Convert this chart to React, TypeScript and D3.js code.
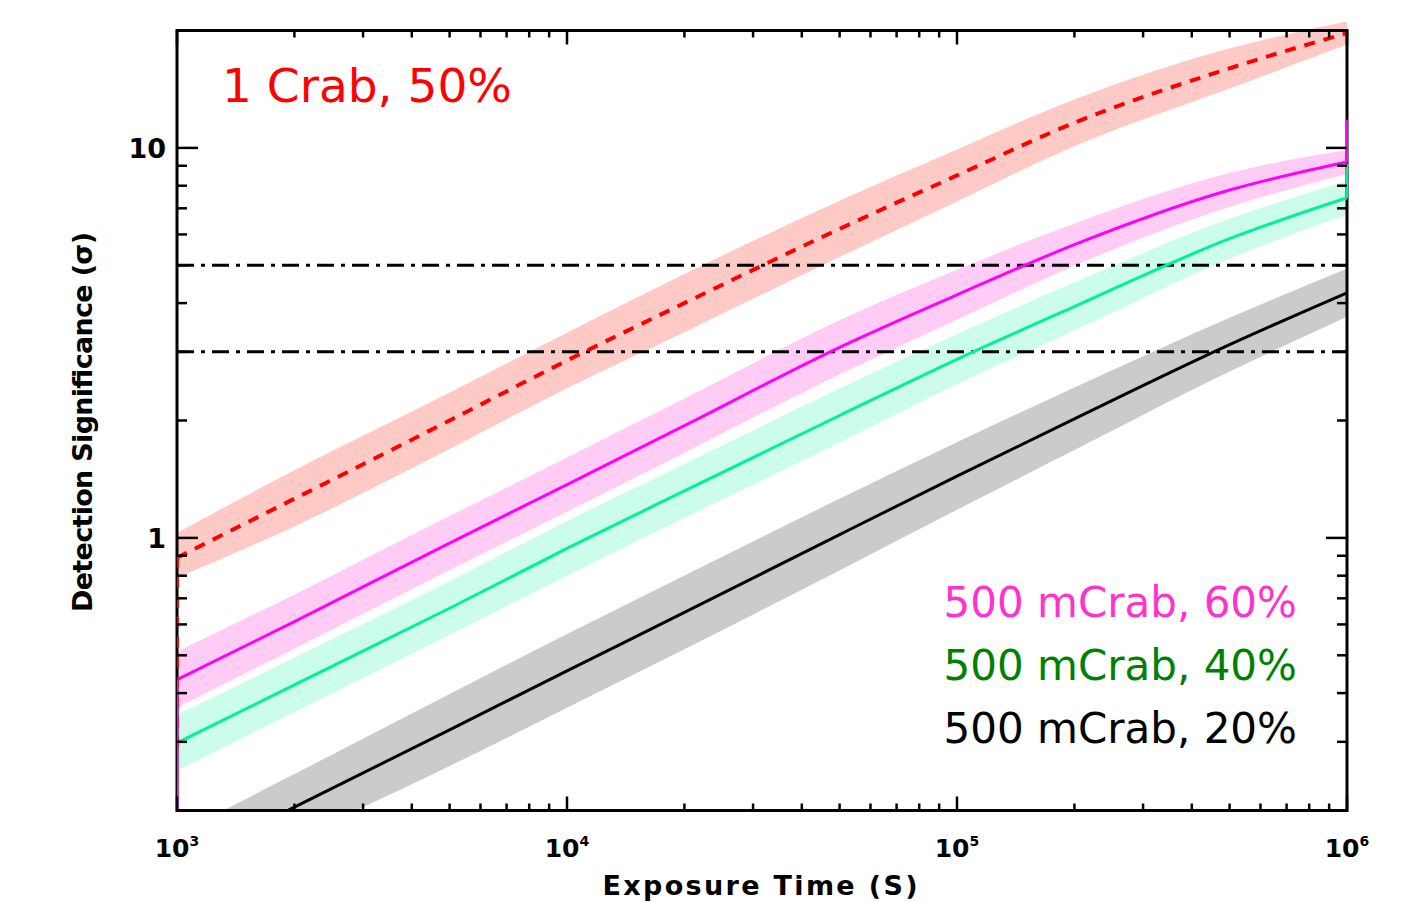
import React from "react";
import * as d3 from "d3";

const times = [1e3, 2e3, 5e3, 1e4, 2e4, 5e4, 1e5, 2e5, 5e5, 1e6];

// 1 Crab, 50%
const crab1 = [0.89, 1.26, 2.0, 2.85, 4.0, 6.2, 8.5, 11.6, 16.0, 19.7];
const crab1Hi = [1.03, 1.49, 2.36, 3.36, 4.75, 7.32, 9.91, 13.3, 18.0, 21.1];
const crab1Lo = [0.79, 1.07, 1.69, 2.42, 3.37, 5.25, 7.29, 10.1, 14.2, 18.4];

// 500 mCrab, 60%
const m60 = [0.433, 0.61, 0.97, 1.37, 1.94, 3.08, 4.2, 5.65, 7.8, 9.2];
const m60Hi = [0.511, 0.716, 1.138, 1.607, 2.276, 3.613, 4.868, 6.4, 8.62, 9.87];
const m60Lo = [0.367, 0.52, 0.827, 1.168, 1.654, 2.626, 3.624, 4.99, 7.06, 8.57];

// 500 mCrab, 40%
const m40 = [0.298, 0.42, 0.66, 0.94, 1.32, 2.06, 2.87, 3.92, 5.85, 7.45];
const m40Hi = [0.352, 0.493, 0.774, 1.103, 1.548, 2.416, 3.326, 4.516, 6.58, 8.23];
const m40Lo = [0.253, 0.358, 0.563, 0.801, 1.125, 1.756, 2.476, 3.403, 5.2, 6.74];

// 500 mCrab, 20%
const m20 = [0.144, 0.204, 0.322, 0.456, 0.644, 1.02, 1.44, 2.02, 3.13, 4.25];
const m20Hi = [0.174, 0.248, 0.398, 0.567, 0.801, 1.26, 1.76, 2.43, 3.67, 4.9];
const m20Lo = [0.119, 0.168, 0.26, 0.367, 0.518, 0.825, 1.18, 1.68, 2.67, 3.69];

// end spikes left by the plotting at the first / last sample
const crab1Start = 0.29;
const m60Start = 0.15;
const m60End = 11.8;
const m40End = 9.1;

const thresholds = [3, 5];
const yTickLabels = [1, 10];
const xExponents = ["3", "4", "5", "6"];

const W = 1427;
const H = 902;
const left = 177;
const right = 1347;
const top = 30.5;
const bottom = 810.5;

const x = d3.scaleLog().domain([1e3, 1e6]).range([left, right]);
const y = d3.scaleLog().domain([0.2, 20]).range([bottom, top]);

const series = [
  { vals: crab1, hi: crab1Hi, lo: crab1Lo, color: "#ff0000", band: "#fdcac6", dash: "11 9", width: 4 },
  { vals: m60, hi: m60Hi, lo: m60Lo, color: "#ff00ff", band: "#ffccf5", dash: null, width: 3 },
  { vals: m40, hi: m40Hi, lo: m40Lo, color: "#00f0a0", band: "#ccfcea", dash: null, width: 3 },
  { vals: m20, hi: m20Hi, lo: m20Lo, color: "#000000", band: "#cbcbcb", dash: null, width: 3 },
];

const tickFont = "'DejaVu Sans', sans-serif";

export default function App() {
  const line = (vals: number[]) =>
    d3
      .line<number>()
      .x((_, i) => x(times[i]))
      .y((d) => y(d))
      .curve(d3.curveMonotoneX)(vals) as string;

  const band = (hi: number[], lo: number[]) =>
    d3
      .area<number>()
      .x((_, i) => x(times[i]))
      .y0((_, i) => y(lo[i]))
      .y1((d) => y(d))
      .curve(d3.curveMonotoneX)(hi) as string;

  const xTicks = x.ticks();
  const yTicks = y.ticks();
  const isMajor = (v: number) => Math.abs(Math.log10(v) - Math.round(Math.log10(v))) < 1e-6;

  const last = times.length - 1;

  return (
    <svg
      width={W}
      height={H}
      style={{ position: "absolute", left: 0, top: 0, display: "block", background: "#fff" }}
    >
      <defs>
        <clipPath id="plot">
          <rect x={left} y={0} width={right - left + 1} height={bottom} />
        </clipPath>
      </defs>

      {/* uncertainty bands */}
      <g clipPath="url(#plot)">
        {series.map((s, i) => (
          <path key={i} d={band(s.hi, s.lo)} fill={s.band} stroke="none" />
        ))}
      </g>

      {/* 3 and 5 sigma levels */}
      {thresholds.map((t) => (
        <line
          key={t}
          x1={left}
          x2={right}
          y1={y(t)}
          y2={y(t)}
          stroke="#000"
          strokeWidth={3}
          strokeDasharray="17 7 4 7"
        />
      ))}

      {/* frame */}
      <rect x={left} y={top} width={right - left} height={bottom - top} fill="none" stroke="#000" strokeWidth={3} />

      {/* curves */}
      <g clipPath="url(#plot)">
        {series.map((s, i) => (
          <path
            key={i}
            d={line(s.vals)}
            fill="none"
            stroke={s.color}
            strokeWidth={s.width}
            strokeDasharray={s.dash ?? undefined}
          />
        ))}
        <line x1={x(times[0])} x2={x(times[0])} y1={y(crab1Start)} y2={y(crab1[0])} stroke="#ff0000" strokeWidth={4} strokeDasharray="11 9" />
        <line x1={x(times[0])} x2={x(times[0])} y1={y(m60Start)} y2={y(m60[0])} stroke="#ff00ff" strokeWidth={3} />
        <line x1={x(times[last])} x2={x(times[last])} y1={y(m60[last])} y2={y(m60End)} stroke="#ff00ff" strokeWidth={3} />
        <line x1={x(times[last])} x2={x(times[last])} y1={y(m40[last])} y2={y(m40End)} stroke="#00f0a0" strokeWidth={3} />
      </g>

      {/* x ticks, top and bottom */}
      {xTicks.map((t, i) => {
        const len = isMajor(t) ? 14 : 7;
        const px = x(t);
        return (
          <g key={i} stroke="#000" strokeWidth={2.5}>
            <line x1={px} x2={px} y1={bottom} y2={bottom - len} />
            <line x1={px} x2={px} y1={top} y2={top + len} />
          </g>
        );
      })}

      {/* y ticks, left and right */}
      {yTicks.map((t, i) => {
        const len = isMajor(t) ? 21 : 10;
        const py = y(t);
        return (
          <g key={i} stroke="#000" strokeWidth={2.5}>
            <line x1={left} x2={left + len} y1={py} y2={py} />
            <line x1={right} x2={right - len} y1={py} y2={py} />
          </g>
        );
      })}

      {/* y tick labels */}
      {yTickLabels.map((v) => (
        <text
          key={v}
          x={166}
          y={y(v) + 10}
          textAnchor="end"
          fontFamily={tickFont}
          fontWeight="bold"
          fontSize={27}
          fill="#000"
        >
          {v}
        </text>
      ))}

      {/* x tick labels */}
      {xExponents.map((e) => (
        <text
          key={e}
          x={x(Math.pow(10, +e))}
          y={857}
          textAnchor="middle"
          fontFamily={tickFont}
          fontWeight="bold"
          fontSize={25}
          fill="#000"
        >
          10
          <tspan fontSize={14} dy={-11}>
            {e}
          </tspan>
        </text>
      ))}

      {/* axis titles */}
      <text
        x={760}
        y={895}
        textAnchor="middle"
        fontFamily={tickFont}
        fontWeight="bold"
        fontSize={27}
        textLength={315}
        lengthAdjust="spacing"
        fill="#000"
      >
        Exposure Time (S)
      </text>
      <text
        transform={`translate(92, 422) rotate(-90)`}
        textAnchor="middle"
        fontFamily={tickFont}
        fontWeight="bold"
        fontSize={27}
        textLength={380}
        lengthAdjust="spacing"
        fill="#000"
      >
        Detection Significance (σ)
      </text>

      {/* annotations */}
      <text x={222} y={102} fontFamily={tickFont} fontSize={47} fill="#ff0000">
        1 Crab, 50%
      </text>
      <text x={1297} y={617} textAnchor="end" fontFamily={tickFont} fontSize={42} fill="#ff33cc">
        500 mCrab, 60%
      </text>
      <text x={1297} y={680} textAnchor="end" fontFamily={tickFont} fontSize={42} fill="#008000">
        500 mCrab, 40%
      </text>
      <text x={1297} y={743} textAnchor="end" fontFamily={tickFont} fontSize={42} fill="#000000">
        500 mCrab, 20%
      </text>
    </svg>
  );
}
